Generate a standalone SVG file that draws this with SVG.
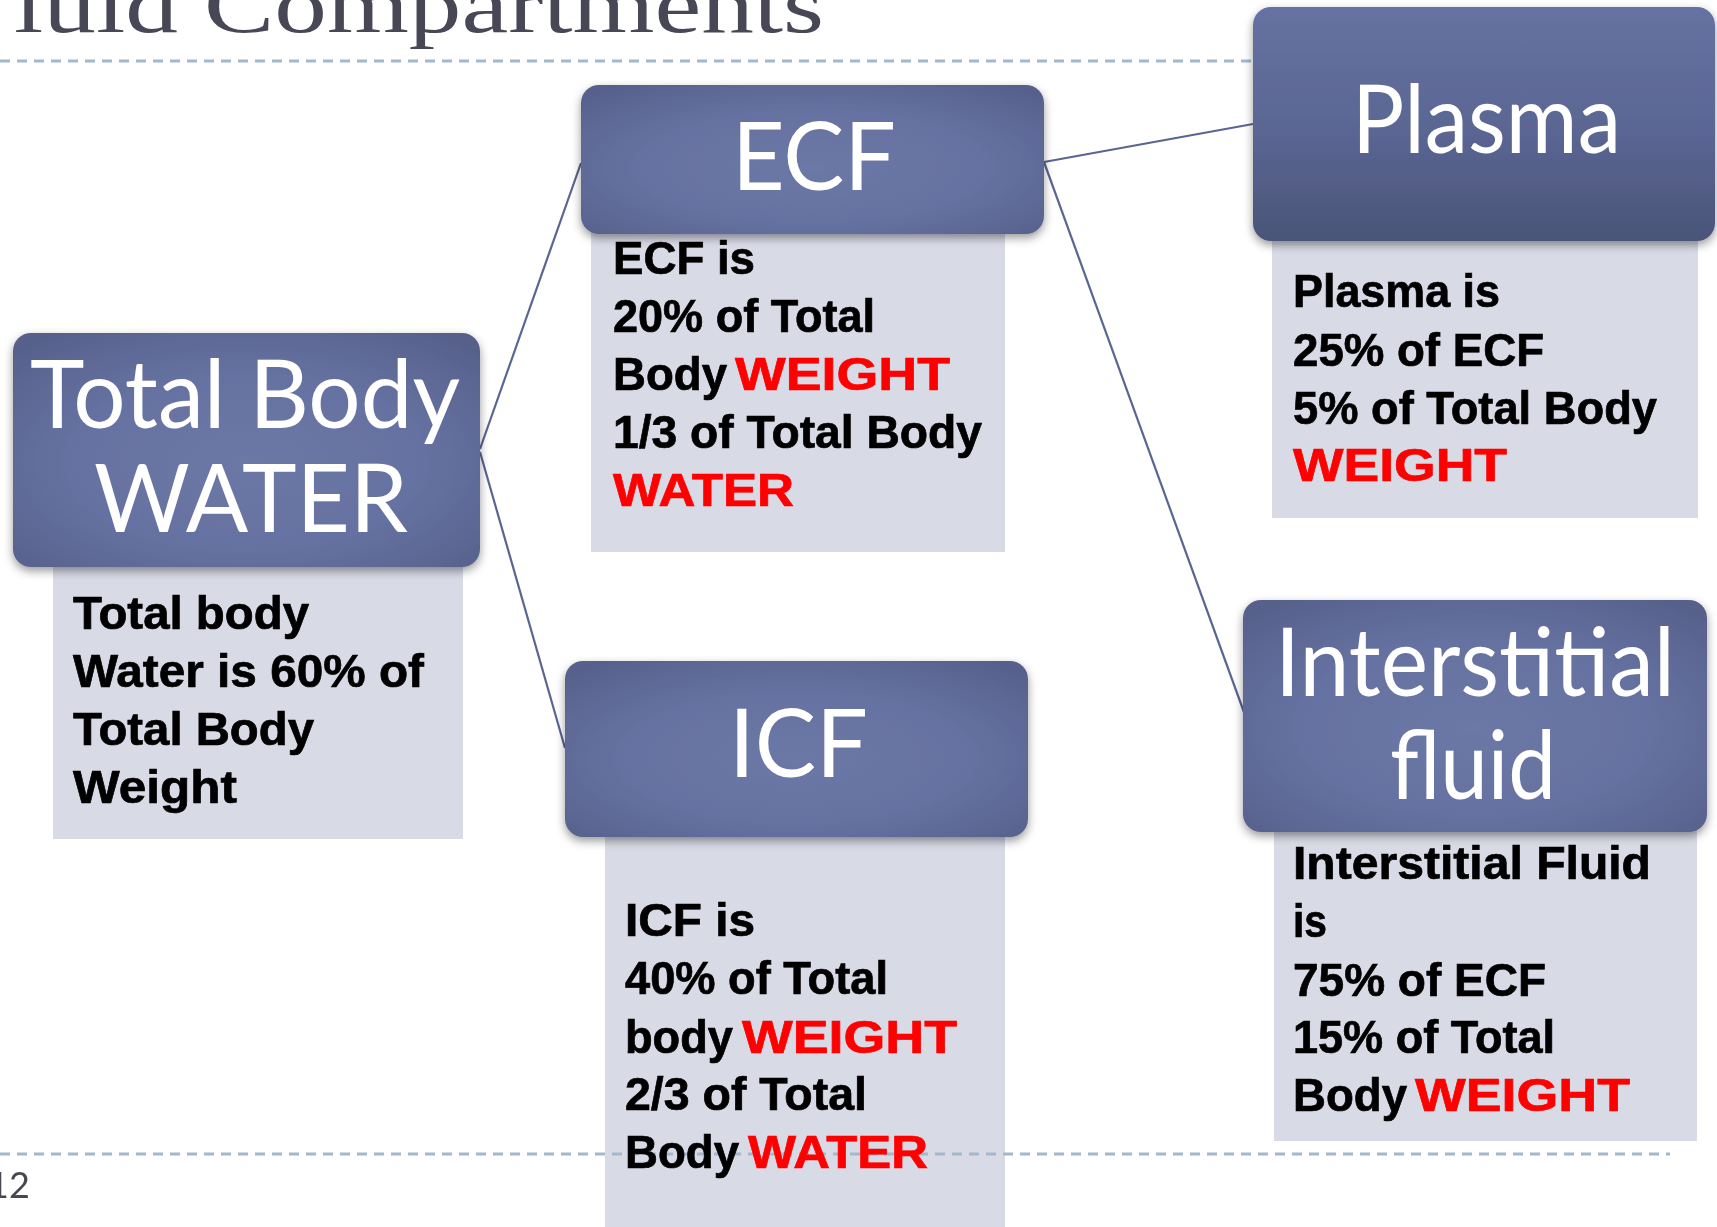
<svg xmlns="http://www.w3.org/2000/svg" width="1717" height="1227" viewBox="0 0 1717 1227">
  <defs>
    <style>
      .hdr { filter: url(#sh); }
      .box { fill: #D8DAE6; mix-blend-mode: darken; }
      .lbl { font-family: Lato, "Liberation Sans", sans-serif; fill: #FFFFFF; font-size: 95px; }
      .body { font-family: "Liberation Sans", Arial, sans-serif; font-weight: bold; font-size: 46px; fill: #000000; stroke: #000000; stroke-width: 0.7px; }
      .red { fill: #FF0000; stroke: #FF0000; }
      .conn { stroke: #5A6591; stroke-width: 2.2; fill: none; }
      .dash { stroke: #A4B7CC; stroke-width: 3; stroke-dasharray: 10 7; fill: none; }
      .title { font-family: "Liberation Serif", "Times New Roman", serif; font-size: 80px; fill: #474755; }
      .pg { font-family: Lato, "Liberation Sans", sans-serif; font-size: 36px; fill: #474752; }
    </style>
    <radialGradient id="gHdr" cx="50%" cy="55%" r="70%">
      <stop offset="0" stop-color="#6C78A6"/>
      <stop offset="0.55" stop-color="#6571A0"/>
      <stop offset="1" stop-color="#56608A"/>
    </radialGradient>
    <linearGradient id="gPlasma" x1="0" y1="0" x2="0" y2="1">
      <stop offset="0" stop-color="#6672A1"/>
      <stop offset="0.55" stop-color="#5A6592"/>
      <stop offset="1" stop-color="#4A5478"/>
    </linearGradient>
    <filter id="sh" x="-10%" y="-15%" width="120%" height="140%">
      <feDropShadow dx="0" dy="4" stdDeviation="5" flood-color="#000000" flood-opacity="0.4"/>
    </filter>
  </defs>

  <g id="decor">
    <text class="title" x="14" y="32" textLength="810" lengthAdjust="spacingAndGlyphs">luid Compartments</text>
    <line class="dash" x1="0" y1="61" x2="1254" y2="61"/>
    <line class="dash" x1="0" y1="1154" x2="1670" y2="1154"/>
    <text class="pg" x="-12" y="1198">12</text>
  </g>

  <g id="connectors">
    <line class="conn" x1="480" y1="449" x2="581" y2="163"/>
    <line class="conn" x1="480" y1="452" x2="565" y2="748"/>
    <line class="conn" x1="1044" y1="162" x2="1253" y2="124"/>
    <line class="conn" x1="1044" y1="162" x2="1245" y2="715"/>
  </g>

  <g id="node-tbw">
    <rect class="box" x="53" y="558" width="410" height="281"/>
    <rect class="hdr" x="13" y="333" width="467" height="234" rx="18" fill="url(#gHdr)"/>
    <text class="lbl" x="30" y="428" textLength="430" lengthAdjust="spacingAndGlyphs">Total Body</text>
    <text class="lbl" x="94" y="532" textLength="314" lengthAdjust="spacingAndGlyphs">WATER</text>
    <text class="body" x="73" y="629" textLength="236" lengthAdjust="spacingAndGlyphs">Total body</text>
    <text class="body" x="73" y="687" textLength="351" lengthAdjust="spacingAndGlyphs">Water is 60% of</text>
    <text class="body" x="73" y="745" textLength="241" lengthAdjust="spacingAndGlyphs">Total Body</text>
    <text class="body" x="73" y="803" textLength="164" lengthAdjust="spacingAndGlyphs">Weight</text>
  </g>

  <g id="node-ecf">
    <rect class="box" x="591" y="230" width="414" height="322"/>
    <rect class="hdr" x="581" y="85" width="463" height="149" rx="18" fill="url(#gHdr)"/>
    <text class="lbl" x="732" y="190" textLength="164" lengthAdjust="spacingAndGlyphs">ECF</text>
    <text class="body" x="613" y="274" textLength="142" lengthAdjust="spacingAndGlyphs">ECF is</text>
    <text class="body" x="613" y="332" textLength="262" lengthAdjust="spacingAndGlyphs">20% of Total</text>
    <text class="body" x="613" y="390" textLength="114" lengthAdjust="spacingAndGlyphs">Body</text>
    <text class="body red" x="735" y="390" textLength="215" lengthAdjust="spacingAndGlyphs">WEIGHT</text>
    <text class="body" x="613" y="448" textLength="369" lengthAdjust="spacingAndGlyphs">1/3 of Total Body</text>
    <text class="body red" x="613" y="506" textLength="181" lengthAdjust="spacingAndGlyphs">WATER</text>
  </g>

  <g id="node-plasma">
    <rect class="box" x="1272" y="236" width="426" height="282"/>
    <rect class="hdr" x="1253" y="7" width="462" height="234" rx="18" fill="url(#gPlasma)"/>
    <text class="lbl" x="1352" y="153" textLength="269" lengthAdjust="spacingAndGlyphs">Plasma</text>
    <text class="body" x="1293" y="307" textLength="207" lengthAdjust="spacingAndGlyphs">Plasma is</text>
    <text class="body" x="1293" y="366" textLength="251" lengthAdjust="spacingAndGlyphs">25% of ECF</text>
    <text class="body" x="1293" y="424" textLength="364" lengthAdjust="spacingAndGlyphs">5% of Total Body</text>
    <text class="body red" x="1293" y="481" textLength="214" lengthAdjust="spacingAndGlyphs">WEIGHT</text>
  </g>

  <g id="node-icf">
    <rect class="box" x="605" y="833" width="400" height="394"/>
    <rect class="hdr" x="565" y="661" width="463" height="176" rx="18" fill="url(#gHdr)"/>
    <text class="lbl" x="729" y="777" textLength="139" lengthAdjust="spacingAndGlyphs">ICF</text>
    <text class="body" x="625" y="936" textLength="130" lengthAdjust="spacingAndGlyphs">ICF is</text>
    <text class="body" x="625" y="994" textLength="263" lengthAdjust="spacingAndGlyphs">40% of Total</text>
    <text class="body" x="625" y="1053" textLength="108" lengthAdjust="spacingAndGlyphs">body</text>
    <text class="body red" x="742" y="1053" textLength="215" lengthAdjust="spacingAndGlyphs">WEIGHT</text>
    <text class="body" x="625" y="1110" textLength="242" lengthAdjust="spacingAndGlyphs">2/3 of Total</text>
    <text class="body" x="625" y="1168" textLength="114" lengthAdjust="spacingAndGlyphs">Body</text>
    <text class="body red" x="748" y="1168" textLength="180" lengthAdjust="spacingAndGlyphs">WATER</text>
  </g>

  <g id="node-interstitial">
    <rect class="box" x="1274" y="815" width="423" height="326"/>
    <rect class="hdr" x="1243" y="600" width="464" height="232" rx="18" fill="url(#gHdr)"/>
    <text class="lbl" x="1275" y="696" textLength="400" lengthAdjust="spacingAndGlyphs">Interstitial</text>
    <text class="lbl" x="1390" y="799" textLength="166" lengthAdjust="spacingAndGlyphs">fluid</text>
    <text class="body" x="1293" y="879" textLength="358" lengthAdjust="spacingAndGlyphs">Interstitial Fluid</text>
    <text class="body" x="1293" y="937" textLength="34" lengthAdjust="spacingAndGlyphs">is</text>
    <text class="body" x="1293" y="996" textLength="253" lengthAdjust="spacingAndGlyphs">75% of ECF</text>
    <text class="body" x="1293" y="1053" textLength="262" lengthAdjust="spacingAndGlyphs">15% of Total</text>
    <text class="body" x="1293" y="1111" textLength="114" lengthAdjust="spacingAndGlyphs">Body</text>
    <text class="body red" x="1415" y="1111" textLength="215" lengthAdjust="spacingAndGlyphs">WEIGHT</text>
  </g>
</svg>
